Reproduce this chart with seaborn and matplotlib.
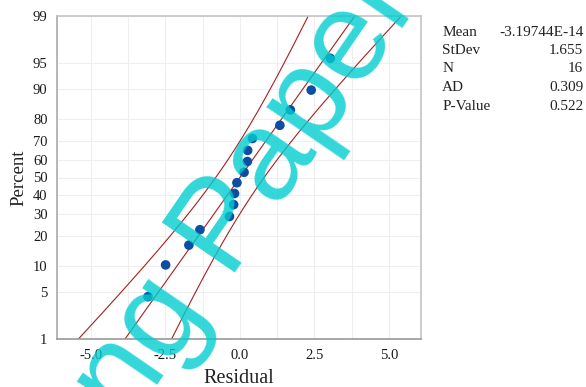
import matplotlib
matplotlib.use("Agg")
import matplotlib.pyplot as plt
from matplotlib.ticker import MultipleLocator
import seaborn as sns
import pandas as pd
import numpy as np
from statistics import NormalDist

# ---- data ----
residuals = [-3.08, -2.49, -1.71, -1.34, -0.35, -0.21, -0.18, -0.10,
             0.14, 0.25, 0.26, 0.42, 1.34, 1.69, 2.39, 3.03]
percents = [4.3, 10.4, 16.5, 22.6, 28.7, 34.8, 40.9, 47.0,
            53.0, 59.1, 65.2, 71.3, 77.4, 83.5, 89.6, 95.7]
pct_ticks = [1, 5, 10, 20, 30, 40, 50, 60, 70, 80, 90, 95, 99]
x_ticks = [-5.0, -2.5, 0.0, 2.5, 5.0]
stat_names = ["Mean", "StDev", "N", "AD", "P-Value"]
stat_values = ["-3.19744E-14", "1.655", "16", "0.309", "0.522"]
fit_mean = 0.0
fit_sd = 1.655
fit_n = 16

nd = NormalDist()
def pz(p):
    return nd.inv_cdf(p / 100.0)

sns.set_theme(style="white")
plt.rcParams['font.family'] = ['Liberation Serif', 'DejaVu Serif']

W, H = 586, 387
fig = plt.figure(figsize=(W / 100, H / 100), dpi=100)
ax = fig.add_axes([57.3 / W, 1 - 339 / H, (421.3 - 57.3) / W, (339 - 16) / H])

df = pd.DataFrame({"Residual": residuals, "z": [pz(p) for p in percents]})

zgrid = np.linspace(pz(1), pz(99), 200)
fit = fit_mean + fit_sd * zgrid
se = fit_sd * np.sqrt((1 + zgrid ** 2 / 2) / fit_n)
lines = pd.DataFrame({"fit": fit, "lo": fit - 1.96 * se, "hi": fit + 1.96 * se, "z": zgrid})

red = "#a52020"
for col in ["lo", "fit", "hi"]:
    sns.lineplot(data=lines, x=col, y="z", sort=False, estimator=None,
                 color=red, lw=0.8, ax=ax)

sns.scatterplot(data=df, x="Residual", y="z", color="#0b4ea2", s=48,
                edgecolor="none", ax=ax, zorder=3)

ax.set_xlim(-6.12, 6.08)
ax.set_ylim(pz(1), pz(99))
ax.set_xticks(x_ticks)
ax.set_xticklabels([f"{v:.1f}" for v in x_ticks])
ax.xaxis.set_minor_locator(MultipleLocator(1.25))
ax.set_yticks([pz(p) for p in pct_ticks])
ax.set_yticklabels([str(p) for p in pct_ticks])
ax.grid(True, which="both", color="#efefef", lw=0.8)
ax.set_axisbelow(True)
ax.tick_params(axis="both", which="major", length=4, width=0.8, color="#999999",
               labelsize=10.5, pad=3, labelcolor="#1a1a1a")
ax.tick_params(axis="x", which="minor", length=0)
for s in ax.spines.values():
    s.set_color("#c4c4c4")
    s.set_linewidth(1.2)
ax.spines["left"].set_color("#aaaaaa")
ax.spines["bottom"].set_color("#999999")
ax.set_xlabel("Residual", fontsize=14.5, color="#222222", labelpad=5)
ax.set_ylabel("Percent", fontsize=13.5, color="#222222", labelpad=4)

# stats table
ys = [32.3, 50.7, 69, 87.3, 106]
for name, val, y in zip(stat_names, stat_values, ys):
    fig.text(442.3 / W, 1 - y / H, name, ha="left", va="center", fontsize=11, color="#222222")
    fig.text(583.3 / W, 1 - y / H, val, ha="right", va="center", fontsize=11, color="#222222")

# watermark
fig.text(128.5 / W, 1 - 426.3 / H, "ng Paper", rotation=55.5, rotation_mode="anchor",
         ha="left", va="baseline", fontsize=92, family="Liberation Sans",
         color="#00cdd0", alpha=0.8, zorder=10)

fig.savefig("out.png", dpi=100)
